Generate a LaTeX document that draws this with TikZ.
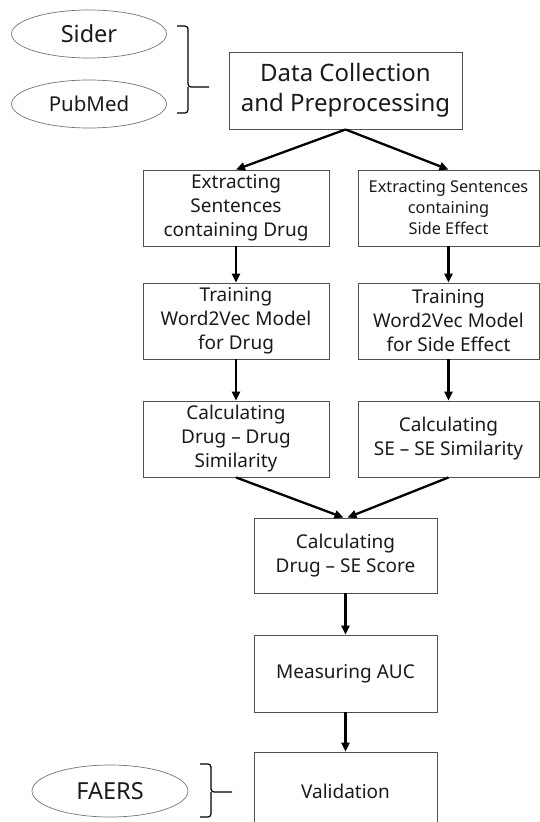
\documentclass[tikz,border=0pt]{standalone}
\usepackage{fontspec}
\setmainfont{Noto Sans}
\usetikzlibrary{arrows.meta,shapes.geometric}
\definecolor{edge}{HTML}{505050}
\definecolor{txt}{HTML}{1A1A1A}
\begin{document}
\begin{tikzpicture}[x=1pt,y=-1pt,
  box/.style={draw=edge, line width=0.9pt, align=center, inner sep=0pt, text=txt, minimum height=76pt},
  lbox/.style={box, minimum width=186pt},
  rbox/.style={box, minimum width=181pt},
  cbox/.style={box, minimum width=183pt},
  oval/.style={draw=edge!80, line width=0.7pt, ellipse, inner sep=0pt, text=txt},
  flow/.style={-{Triangle[length=9pt,width=8pt]}, line width=2.3pt, black},
  brace/.style={line width=1.2pt, black, rounded corners=3pt},
  f16/.style={font=\fontsize{19}{24}\selectfont},
  f14/.style={font=\fontsize{16.3}{21}\selectfont},
  fpm/.style={font=\fontsize{20.5}{24}\selectfont},
  f23/.style={font=\fontsize{23.5}{28}\selectfont},
  f20/.style={font=\fontsize{24}{30}\selectfont}]
\useasboundingbox (0,0) rectangle (540,822);
\begin{scope}
\clip (0,0) rectangle (540,822);
% source ellipses
\node[oval, f23, minimum width=155pt, minimum height=48pt] (sider) at (89,34) {Sider};
\node[oval, fpm, minimum width=155pt, minimum height=48pt] (pubmed) at (89,104) {PubMed};
\node[oval, f23, minimum width=156pt, minimum height=52pt] (faers) at (110,791) {FAERS};
% boxes
\node[box, f20, minimum width=233pt, minimum height=77pt] (data) at (345.5,90.5) {Data Collection\\and Preprocessing};
\node[lbox, f16] (ex1) at (236,208) {Extracting\\Sentences\\containing Drug};
\node[rbox, f14] (ex2) at (448.5,208) {Extracting Sentences\\containing\\Side Effect};
\node[lbox, f16] (tr1) at (236,321) {Training\\Word2Vec Model\\for Drug};
\node[rbox, f16] (tr2) at (448.5,321) {Training\\Word2Vec Model\\for Side Effect};
\node[lbox, f16] (ca1) at (236,439) {Calculating\\Drug -- Drug\\Similarity};
\node[rbox, f16] (ca2) at (448.5,439) {Calculating\\SE -- SE Similarity};
\node[cbox, f16, minimum height=75pt] (score) at (345.5,555.5) {Calculating\\Drug -- SE Score};
\node[cbox, f16, minimum height=77pt] (auc) at (345.5,673.5) {Measuring AUC};
\node[cbox, f16, minimum height=78pt] (val) at (345.5,791) {Validation};
% braces
\coordinate (tipA) at (209,87);
\coordinate (tipB) at (232,792);
\draw[brace] (177,26) -- (188,26) -- (188,87) -- (tipA);
\draw[brace] (177,113) -- (188,113) -- (188,87);
\draw[brace] (200,764) -- (211,764) -- (211,792) -- (tipB);
\draw[brace] (200,817) -- (211,817) -- (211,792);
% arrows
\draw[flow] (data.south) -- (ex1.north);
\draw[flow] (data.south) -- (ex2.north);
\draw[flow] (ex1) -- (tr1);
\draw[flow] (ex2) -- (tr2);
\draw[flow] (tr1) -- (ca1);
\draw[flow] (tr2) -- (ca2);
\draw[flow] (ca1.south) -- ([xshift=-2pt]score.north);
\draw[flow] (ca2.south) -- ([xshift=2pt]score.north);
\draw[flow] (score) -- (auc);
\draw[flow] (auc) -- (val);
\end{scope}
\end{tikzpicture}
\end{document}
